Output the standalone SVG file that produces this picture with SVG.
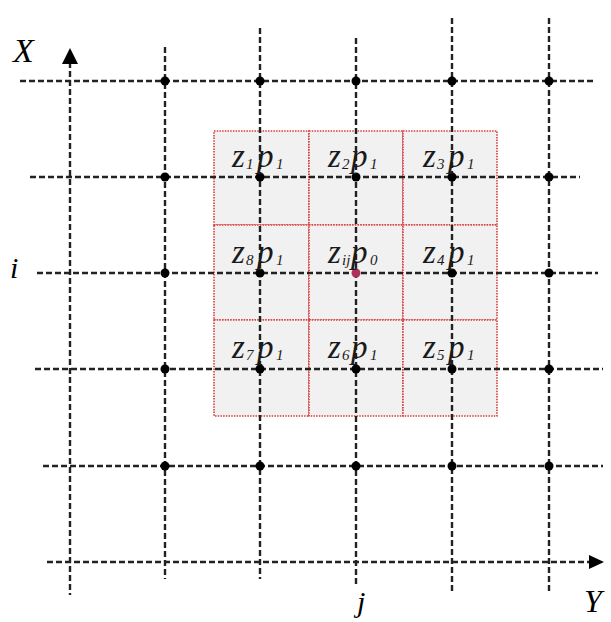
<svg xmlns="http://www.w3.org/2000/svg" width="611" height="622" viewBox="0 0 611 622">
<style>
.g{stroke:#222;stroke-width:2.4;stroke-dasharray:6 3;fill:none}
.cell{fill:#f1f1f1;stroke:#d83c3c;stroke-width:1.6;stroke-dasharray:1.5 1.2}
.dot{fill:#000}
.t{font-family:"Liberation Serif",serif;font-style:italic;fill:#1a1a1a}
.m{font-size:33px}
.s{font-size:15px}
.lab{font-family:"Liberation Serif",serif;font-style:italic;fill:#000}
</style>
<rect width="611" height="622" fill="#fff"/>
<g id="cells">
<rect class="cell" x="214" y="131" width="95" height="94"/>
<rect class="cell" x="309" y="131" width="94" height="94"/>
<rect class="cell" x="403" y="131" width="94" height="94"/>
<rect class="cell" x="214" y="225" width="95" height="95"/>
<rect class="cell" x="309" y="225" width="94" height="95"/>
<rect class="cell" x="403" y="225" width="94" height="95"/>
<rect class="cell" x="214" y="320" width="95" height="96"/>
<rect class="cell" x="309" y="320" width="94" height="96"/>
<rect class="cell" x="403" y="320" width="94" height="96"/>
</g>
<g id="connectors">
<line class="g" x1="20" y1="81" x2="593" y2="81"/>
<line class="g" x1="30" y1="177" x2="580" y2="177"/>
<line class="g" x1="37" y1="273" x2="598" y2="273"/>
<line class="g" x1="35" y1="369" x2="603" y2="369"/>
<line class="g" x1="43" y1="466" x2="603" y2="466"/>
<line class="g" x1="47" y1="562" x2="592" y2="562"/>
<line class="g" x1="70" y1="62" x2="70" y2="595"/>
<line class="g" x1="165" y1="47" x2="165" y2="579"/>
<line class="g" x1="260" y1="28" x2="260" y2="579"/>
<line class="g" x1="356" y1="38" x2="356" y2="587"/>
<line class="g" x1="452" y1="18" x2="452" y2="592"/>
<line class="g" x1="549" y1="18" x2="549" y2="592"/>
<polygon points="70,48 62,64 78,64" fill="#000"/>
<polygon points="604,562 589,555 589,569" fill="#000"/>
</g>
<g id="dots">
<circle class="dot" cx="165" cy="81" r="4.5"/><circle class="dot" cx="260" cy="81" r="4.5"/><circle class="dot" cx="356" cy="81" r="4.5"/><circle class="dot" cx="452" cy="81" r="4.5"/><circle class="dot" cx="549" cy="81" r="4.5"/>
<circle class="dot" cx="165" cy="177" r="4.5"/><circle class="dot" cx="260" cy="177" r="4.5"/><circle class="dot" cx="356" cy="177" r="4.5"/><circle class="dot" cx="452" cy="177" r="4.5"/><circle class="dot" cx="549" cy="177" r="4.5"/>
<circle class="dot" cx="165" cy="273" r="4.5"/><circle class="dot" cx="260" cy="273" r="4.5"/><circle cx="356" cy="273" r="4.5" fill="#b0305a"/><circle class="dot" cx="452" cy="273" r="4.5"/><circle class="dot" cx="549" cy="273" r="4.5"/>
<circle class="dot" cx="165" cy="369" r="4.5"/><circle class="dot" cx="260" cy="369" r="4.5"/><circle class="dot" cx="356" cy="369" r="4.5"/><circle class="dot" cx="452" cy="369" r="4.5"/><circle class="dot" cx="549" cy="369" r="4.5"/>
<circle class="dot" cx="165" cy="466" r="4.5"/><circle class="dot" cx="260" cy="466" r="4.5"/><circle class="dot" cx="356" cy="466" r="4.5"/><circle class="dot" cx="452" cy="466" r="4.5"/><circle class="dot" cx="549" cy="466" r="4.5"/>
</g>
<g id="n1"><text class="t m" x="232" y="167">z</text><text class="t s" x="246" y="169">1</text><text class="t m" x="257" y="167">p</text><text class="t s" x="276" y="169">1</text></g>
<g id="n2"><text class="t m" x="328" y="167">z</text><text class="t s" x="342" y="169">2</text><text class="t m" x="351" y="167">p</text><text class="t s" x="370" y="169">1</text></g>
<g id="n3"><text class="t m" x="423" y="167">z</text><text class="t s" x="437" y="169">3</text><text class="t m" x="448" y="167">p</text><text class="t s" x="467" y="169">1</text></g>
<g id="n8"><text class="t m" x="232" y="263">z</text><text class="t s" x="246" y="265">8</text><text class="t m" x="257" y="263">p</text><text class="t s" x="276" y="265">1</text></g>
<g id="n0"><text class="t m" x="328" y="263">z</text><text class="t s" x="342" y="265">ij</text><text class="t m" x="351" y="263">p</text><text class="t s" x="370" y="265">0</text></g>
<g id="n4"><text class="t m" x="423" y="263">z</text><text class="t s" x="437" y="265">4</text><text class="t m" x="448" y="263">p</text><text class="t s" x="467" y="265">1</text></g>
<g id="n7"><text class="t m" x="232" y="358">z</text><text class="t s" x="246" y="360">7</text><text class="t m" x="257" y="358">p</text><text class="t s" x="276" y="360">1</text></g>
<g id="n6"><text class="t m" x="328" y="358">z</text><text class="t s" x="342" y="360">6</text><text class="t m" x="351" y="358">p</text><text class="t s" x="370" y="360">1</text></g>
<g id="n5"><text class="t m" x="423" y="358">z</text><text class="t s" x="437" y="360">5</text><text class="t m" x="448" y="358">p</text><text class="t s" x="467" y="360">1</text></g>
<g id="labels">
<text class="lab" x="13" y="62" font-size="34">X</text>
<text class="lab" x="10" y="278" font-size="30">i</text>
<text class="lab" x="357" y="612" font-size="30">j</text>
<text class="lab" x="584" y="612" font-size="32">Y</text>
</g>
</svg>
